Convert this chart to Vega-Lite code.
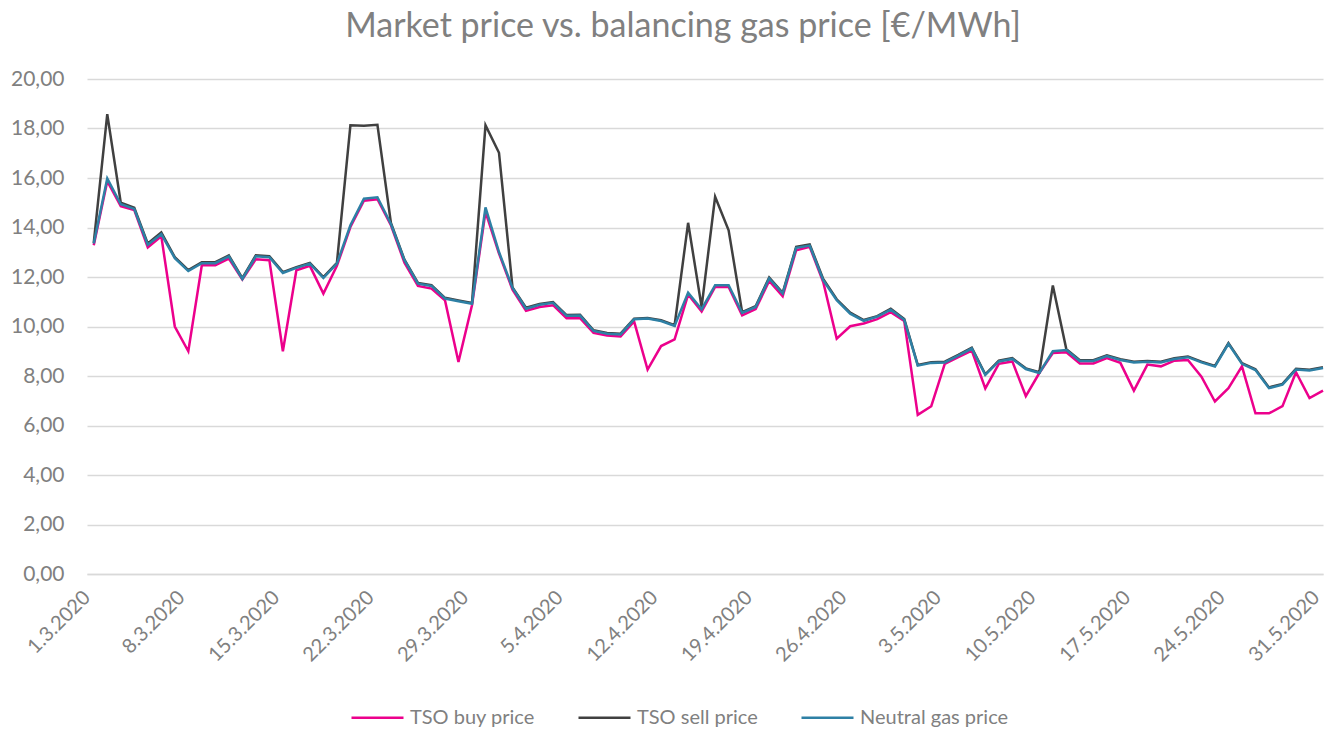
{
  "$schema": "https://vega.github.io/schema/vega-lite/v6.json",
  "autosize": {"type": "none"},
  "padding": {"left": 87, "top": 79, "right": 3, "bottom": 156},
  "width": 1236,
  "height": 495,
  "background": "white",
  "title": {
    "text": "Market price vs. balancing gas price [€/MWh]",
    "anchor": "middle",
    "frame": "group",
    "dx": -22,
    "offset": -3,
    "baseline": "alphabetic",
    "font": "Lato",
    "fontSize": 34,
    "fontWeight": "normal",
    "color": "#808080"
  },
  "data": {
    "values": [
      {"date": "2020-03-01", "buy": 13.28, "sell": 13.38, "neutral": 13.35},
      {"date": "2020-03-02", "buy": 15.87, "sell": 18.58, "neutral": 15.98},
      {"date": "2020-03-03", "buy": 14.86, "sell": 15.0, "neutral": 14.94},
      {"date": "2020-03-04", "buy": 14.7, "sell": 14.8, "neutral": 14.75},
      {"date": "2020-03-05", "buy": 13.2, "sell": 13.35, "neutral": 13.3},
      {"date": "2020-03-06", "buy": 13.65, "sell": 13.8, "neutral": 13.73},
      {"date": "2020-03-07", "buy": 10.0, "sell": 12.8, "neutral": 12.76},
      {"date": "2020-03-08", "buy": 9.0, "sell": 12.28, "neutral": 12.24},
      {"date": "2020-03-09", "buy": 12.47, "sell": 12.6, "neutral": 12.56},
      {"date": "2020-03-10", "buy": 12.47, "sell": 12.6, "neutral": 12.56},
      {"date": "2020-03-11", "buy": 12.74, "sell": 12.87, "neutral": 12.83},
      {"date": "2020-03-12", "buy": 11.9, "sell": 11.95, "neutral": 11.92},
      {"date": "2020-03-13", "buy": 12.72, "sell": 12.88, "neutral": 12.84},
      {"date": "2020-03-14", "buy": 12.68, "sell": 12.84, "neutral": 12.8},
      {"date": "2020-03-15", "buy": 9.0, "sell": 12.2, "neutral": 12.16},
      {"date": "2020-03-16", "buy": 12.27, "sell": 12.4, "neutral": 12.37},
      {"date": "2020-03-17", "buy": 12.45, "sell": 12.57, "neutral": 12.54},
      {"date": "2020-03-18", "buy": 11.33, "sell": 12.0, "neutral": 11.96},
      {"date": "2020-03-19", "buy": 12.45, "sell": 12.57, "neutral": 12.54},
      {"date": "2020-03-20", "buy": 14.02, "sell": 18.13, "neutral": 14.09},
      {"date": "2020-03-21", "buy": 15.08, "sell": 18.11, "neutral": 15.16},
      {"date": "2020-03-22", "buy": 15.14, "sell": 18.15, "neutral": 15.22},
      {"date": "2020-03-23", "buy": 14.09, "sell": 14.18, "neutral": 14.14},
      {"date": "2020-03-24", "buy": 12.58, "sell": 12.7, "neutral": 12.68},
      {"date": "2020-03-25", "buy": 11.64, "sell": 11.76, "neutral": 11.73},
      {"date": "2020-03-26", "buy": 11.53, "sell": 11.67, "neutral": 11.64},
      {"date": "2020-03-27", "buy": 11.06, "sell": 11.16, "neutral": 11.13},
      {"date": "2020-03-28", "buy": 8.57, "sell": 11.05, "neutral": 11.02},
      {"date": "2020-03-29", "buy": 10.86, "sell": 10.95, "neutral": 10.92},
      {"date": "2020-03-30", "buy": 14.63, "sell": 18.13, "neutral": 14.81},
      {"date": "2020-03-31", "buy": 12.95, "sell": 17.02, "neutral": 13.01},
      {"date": "2020-04-01", "buy": 11.49, "sell": 11.58, "neutral": 11.56},
      {"date": "2020-04-02", "buy": 10.63, "sell": 10.76, "neutral": 10.72},
      {"date": "2020-04-03", "buy": 10.79, "sell": 10.91, "neutral": 10.88},
      {"date": "2020-04-04", "buy": 10.86, "sell": 10.99, "neutral": 10.96},
      {"date": "2020-04-05", "buy": 10.33, "sell": 10.46, "neutral": 10.43},
      {"date": "2020-04-06", "buy": 10.34, "sell": 10.47, "neutral": 10.44},
      {"date": "2020-04-07", "buy": 9.74, "sell": 9.85, "neutral": 9.82},
      {"date": "2020-04-08", "buy": 9.64, "sell": 9.74, "neutral": 9.71},
      {"date": "2020-04-09", "buy": 9.6, "sell": 9.71, "neutral": 9.68},
      {"date": "2020-04-10", "buy": 10.21, "sell": 10.31, "neutral": 10.29},
      {"date": "2020-04-11", "buy": 8.26, "sell": 10.34, "neutral": 10.32},
      {"date": "2020-04-12", "buy": 9.21, "sell": 10.25, "neutral": 10.22},
      {"date": "2020-04-13", "buy": 9.48, "sell": 10.05, "neutral": 10.02},
      {"date": "2020-04-14", "buy": 11.29, "sell": 14.19, "neutral": 11.37},
      {"date": "2020-04-15", "buy": 10.61, "sell": 10.79, "neutral": 10.7},
      {"date": "2020-04-16", "buy": 11.6, "sell": 15.24, "neutral": 11.67},
      {"date": "2020-04-17", "buy": 11.6, "sell": 13.89, "neutral": 11.67},
      {"date": "2020-04-18", "buy": 10.45, "sell": 10.58, "neutral": 10.55},
      {"date": "2020-04-19", "buy": 10.7, "sell": 10.82, "neutral": 10.79},
      {"date": "2020-04-20", "buy": 11.84, "sell": 11.98, "neutral": 11.94},
      {"date": "2020-04-21", "buy": 11.22, "sell": 11.36, "neutral": 11.33},
      {"date": "2020-04-22", "buy": 13.08, "sell": 13.22, "neutral": 13.18},
      {"date": "2020-04-23", "buy": 13.22, "sell": 13.32, "neutral": 13.27},
      {"date": "2020-04-24", "buy": 11.8, "sell": 11.92, "neutral": 11.87},
      {"date": "2020-04-25", "buy": 9.51, "sell": 11.1, "neutral": 11.06},
      {"date": "2020-04-26", "buy": 10.01, "sell": 10.56, "neutral": 10.52},
      {"date": "2020-04-27", "buy": 10.12, "sell": 10.26, "neutral": 10.23},
      {"date": "2020-04-28", "buy": 10.3, "sell": 10.42, "neutral": 10.4},
      {"date": "2020-04-29", "buy": 10.58, "sell": 10.72, "neutral": 10.68},
      {"date": "2020-04-30", "buy": 10.22, "sell": 10.3, "neutral": 10.27},
      {"date": "2020-05-01", "buy": 6.43, "sell": 8.45, "neutral": 8.42},
      {"date": "2020-05-02", "buy": 6.78, "sell": 8.56, "neutral": 8.53},
      {"date": "2020-05-03", "buy": 8.49, "sell": 8.58, "neutral": 8.55},
      {"date": "2020-05-04", "buy": 8.76, "sell": 8.85, "neutral": 8.82},
      {"date": "2020-05-05", "buy": 9.03, "sell": 9.14, "neutral": 9.11},
      {"date": "2020-05-06", "buy": 7.5, "sell": 8.07, "neutral": 8.04},
      {"date": "2020-05-07", "buy": 8.49, "sell": 8.62, "neutral": 8.59},
      {"date": "2020-05-08", "buy": 8.59, "sell": 8.72, "neutral": 8.69},
      {"date": "2020-05-09", "buy": 7.19, "sell": 8.31, "neutral": 8.28},
      {"date": "2020-05-10", "buy": 8.12, "sell": 8.15, "neutral": 8.12},
      {"date": "2020-05-11", "buy": 8.93, "sell": 11.66, "neutral": 9.0},
      {"date": "2020-05-12", "buy": 8.96, "sell": 9.08, "neutral": 9.05},
      {"date": "2020-05-13", "buy": 8.51, "sell": 8.64, "neutral": 8.61},
      {"date": "2020-05-14", "buy": 8.51, "sell": 8.64, "neutral": 8.61},
      {"date": "2020-05-15", "buy": 8.72, "sell": 8.84, "neutral": 8.81},
      {"date": "2020-05-16", "buy": 8.53, "sell": 8.68, "neutral": 8.65},
      {"date": "2020-05-17", "buy": 7.41, "sell": 8.58, "neutral": 8.55},
      {"date": "2020-05-18", "buy": 8.46, "sell": 8.61, "neutral": 8.58},
      {"date": "2020-05-19", "buy": 8.39, "sell": 8.58, "neutral": 8.55},
      {"date": "2020-05-20", "buy": 8.62, "sell": 8.72, "neutral": 8.69},
      {"date": "2020-05-21", "buy": 8.65, "sell": 8.79, "neutral": 8.76},
      {"date": "2020-05-22", "buy": 7.97, "sell": 8.58, "neutral": 8.55},
      {"date": "2020-05-23", "buy": 6.97, "sell": 8.41, "neutral": 8.38},
      {"date": "2020-05-24", "buy": 7.51, "sell": 9.33, "neutral": 9.3},
      {"date": "2020-05-25", "buy": 8.39, "sell": 8.52, "neutral": 8.49},
      {"date": "2020-05-26", "buy": 6.49, "sell": 8.27, "neutral": 8.24},
      {"date": "2020-05-27", "buy": 6.49, "sell": 7.54, "neutral": 7.51},
      {"date": "2020-05-28", "buy": 6.78, "sell": 7.68, "neutral": 7.65},
      {"date": "2020-05-29", "buy": 8.15, "sell": 8.29, "neutral": 8.26},
      {"date": "2020-05-30", "buy": 7.11, "sell": 8.25, "neutral": 8.22},
      {"date": "2020-05-31", "buy": 7.41, "sell": 8.35, "neutral": 8.32}
    ]
  },
  "transform": [
    {"fold": ["buy", "sell", "neutral"], "as": ["series", "price"]}
  ],
  "mark": {"type": "line", "strokeWidth": 2.5, "strokeJoin": "miter", "strokeCap": "butt"},
  "encoding": {
    "x": {
      "field": "date",
      "type": "temporal",
      "scale": {
        "type": "utc",
        "domain": [
          {"year": 2020, "month": 2, "date": 29, "hours": 12, "utc": true},
          {"year": 2020, "month": 5, "date": 31, "utc": true}
        ]
      },
      "axis": {
        "title": null,
        "values": [
          {"year": 2020, "month": 3, "date": 1, "utc": true},
          {"year": 2020, "month": 3, "date": 8, "utc": true},
          {"year": 2020, "month": 3, "date": 15, "utc": true},
          {"year": 2020, "month": 3, "date": 22, "utc": true},
          {"year": 2020, "month": 3, "date": 29, "utc": true},
          {"year": 2020, "month": 4, "date": 5, "utc": true},
          {"year": 2020, "month": 4, "date": 12, "utc": true},
          {"year": 2020, "month": 4, "date": 19, "utc": true},
          {"year": 2020, "month": 4, "date": 26, "utc": true},
          {"year": 2020, "month": 5, "date": 3, "utc": true},
          {"year": 2020, "month": 5, "date": 10, "utc": true},
          {"year": 2020, "month": 5, "date": 17, "utc": true},
          {"year": 2020, "month": 5, "date": 24, "utc": true},
          {"year": 2020, "month": 5, "date": 31, "utc": true}
        ],
        "labelExpr": "utcdate(datum.value) + '.' + (utcmonth(datum.value) + 1) + '.' + utcyear(datum.value)",
        "labelAngle": -45,
        "labelAlign": "right",
        "labelBaseline": "middle",
        "labelPadding": 20,
        "labelOffset": -7,
        "labelFont": "Lato",
        "labelFontSize": 20,
        "labelColor": "#808080",
        "labelOverlap": false,
        "labelFlush": false,
        "ticks": false,
        "grid": false,
        "domain": true,
        "domainColor": "#d9d9d9",
        "domainWidth": 1.5
      }
    },
    "y": {
      "field": "price",
      "type": "quantitative",
      "scale": {"domain": [0, 20], "nice": false, "zero": true},
      "axis": {
        "title": null,
        "values": [0, 2, 4, 6, 8, 10, 12, 14, 16, 18, 20],
        "labelExpr": "replace(format(datum.value, '.2f'), '.', ',')",
        "labelFont": "Lato",
        "labelFontSize": 21,
        "labelColor": "#808080",
        "labelPadding": 23,
        "ticks": false,
        "domain": false,
        "grid": true,
        "gridColor": "#d9d9d9",
        "gridWidth": 1.5
      }
    },
    "color": {
      "field": "series",
      "type": "nominal",
      "scale": {
        "domain": ["buy", "sell", "neutral"],
        "range": ["#EC008C", "#404040", "#2E80A5"]
      },
      "legend": {
        "title": null,
        "orient": "none",
        "legendX": 263,
        "legendY": 611,
        "direction": "horizontal",
        "symbolType": "stroke",
        "symbolSize": 2704,
        "symbolStrokeWidth": 2.5,
        "labelOffset": 5,
        "columnPadding": 38,
        "labelFont": "Lato",
        "labelFontSize": 20,
        "labelColor": "#808080",
        "labelExpr": "datum.label == 'buy' ? 'TSO buy price' : datum.label == 'sell' ? 'TSO sell price' : 'Neutral gas price'"
      }
    }
  },
  "config": {
    "view": {"stroke": null}
  }
}
